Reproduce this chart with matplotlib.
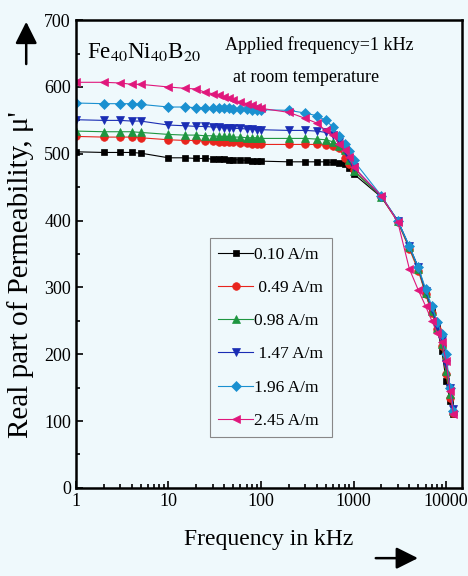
import matplotlib
matplotlib.use('Agg')
import matplotlib.pyplot as plt
import numpy as np

plt.rcParams['font.family'] = ['Liberation Serif', 'DejaVu Serif']
plt.rcParams['mathtext.fontset'] = 'stix'

freq = [1, 2, 3, 4, 5,
        10, 15, 20, 25, 30, 35, 40, 45, 50, 60, 70, 80, 90, 100,
        200, 300, 400, 500, 600, 700, 800, 900, 1000,
        2000, 3000, 4000, 5000, 6000, 7000, 8000, 9000, 10000, 11000, 12000]

mu_010 = [503, 502, 502, 502, 501,
          494, 494, 493, 493, 492, 492, 492, 491, 491, 491, 490, 489, 489, 489,
          488, 488, 488, 488, 487, 486, 484, 478, 470,
          435, 400, 360, 330, 290, 265, 240, 205, 160, 130, 110]
mu_049 = [526, 525, 525, 525, 524,
          521, 520, 520, 519, 519, 518, 518, 517, 517, 516, 516, 515, 515, 514,
          514, 514, 514, 513, 512, 508, 494, 485, 476,
          435, 398, 358, 325, 290, 262, 238, 212, 170, 135, 112]
mu_098 = [534, 533, 533, 533, 532,
          529, 528, 528, 527, 527, 526, 526, 526, 525, 525, 524, 524, 524, 523,
          523, 523, 522, 521, 518, 512, 505, 490, 474,
          436, 399, 360, 328, 292, 265, 240, 215, 175, 140, 115]
mu_147 = [551, 550, 550, 549, 549,
          543, 542, 541, 541, 540, 540, 539, 539, 538, 538, 537, 537, 536, 536,
          535, 535, 534, 532, 528, 518, 505, 494, 480,
          436, 400, 362, 330, 295, 268, 243, 222, 185, 150, 118]
mu_196 = [576, 575, 575, 575, 574,
          570, 570, 569, 569, 569, 568, 568, 568, 567, 567, 567, 566, 566, 566,
          565, 561, 557, 550, 540, 526, 515, 504, 490,
          437, 400, 362, 330, 298, 272, 248, 230, 200, 150, 115]
mu_245 = [607, 607, 606, 604, 604,
          600, 598, 597, 592, 590, 588, 585, 583, 580, 578, 575, 573, 570, 568,
          562, 553, 546, 535, 528, 514, 506, 495, 480,
          437, 398, 328, 296, 272, 250, 232, 218, 190, 145, 110]

labels = ['0.10 A/m', ' 0.49 A/m', '0.98 A/m', ' 1.47 A/m', '1.96 A/m', '2.45 A/m']
series = [mu_010, mu_049, mu_098, mu_147, mu_196, mu_245]
colors = ['black', '#e8251e', '#1e9640', '#1a2db4', '#1a90d0', '#e0177c']
markers = ['s', 'o', '^', 'v', 'D', '<']
msizes = [5, 5.5, 5.5, 5.5, 5, 5.5]

bg = '#eff9fc'
fig = plt.figure(figsize=(4.68, 5.76), dpi=100, facecolor=bg)
ax = fig.add_axes([0.162, 0.153, 0.825, 0.812], facecolor=bg)

for y, lab, c, m, ms in zip(series, labels, colors, markers, msizes):
    ax.plot(freq, y, color=c, marker=m, markersize=ms, linewidth=0.8,
            label=lab, markeredgewidth=0.5)

ax.set_xscale('log')
ax.set_xlim(1, 14800)
ax.set_ylim(0, 700)
ax.set_xticks([1, 10, 100, 1000, 10000])
ax.set_xticklabels(['1', '10', '100', '1000', '10000'])
ax.set_yticks(np.arange(0, 701, 100))
ax.set_yticks(np.arange(50, 700, 100), minor=True)
ax.tick_params(which='both', direction='in', labelsize=13, width=1.2)
ax.tick_params(which='major', length=5)
ax.tick_params(which='minor', length=3)
for s in ax.spines.values():
    s.set_linewidth(1.8)

ax.set_xlabel('Frequency in kHz', fontsize=17, labelpad=14)
ax.set_ylabel("Real part of Permeability, \u03bc'", fontsize=21)
ax.yaxis.set_label_coords(-0.108, 0.455)

ax.text(0.03, 0.955, 'Fe$_{40}$Ni$_{40}$B$_{20}$', transform=ax.transAxes,
        fontsize=16.5, va='top', ha='left')
ax.text(0.386, 0.947, 'Applied frequency=1 kHz', transform=ax.transAxes,
        fontsize=13, va='center', ha='left')
ax.text(0.407, 0.878, 'at room temperature', transform=ax.transAxes,
        fontsize=13, va='center', ha='left')

leg = ax.legend(loc='upper left', bbox_to_anchor=(0.347, 0.534), fontsize=12.5,
                frameon=True, fancybox=False, edgecolor='#888888',
                facecolor=bg, framealpha=1, handlelength=2.0,
                handletextpad=0.05, labelspacing=0.98, borderpad=0.5,
                borderaxespad=0)
leg.get_frame().set_linewidth(0.8)

# arrows next to axis labels
fig.patches.append(matplotlib.patches.FancyArrowPatch(
    (0.056, 0.884), (0.056, 0.967), transform=fig.transFigure,
    arrowstyle='-|>,head_length=0.6,head_width=0.3', mutation_scale=22,
    linewidth=1.8, color='black'))
fig.patches.append(matplotlib.patches.FancyArrowPatch(
    (0.797, 0.031), (0.899, 0.031), transform=fig.transFigure,
    arrowstyle='-|>,head_length=0.6,head_width=0.3', mutation_scale=22,
    linewidth=1.8, color='black'))

fig.savefig('out.png', dpi=100, facecolor=bg)
